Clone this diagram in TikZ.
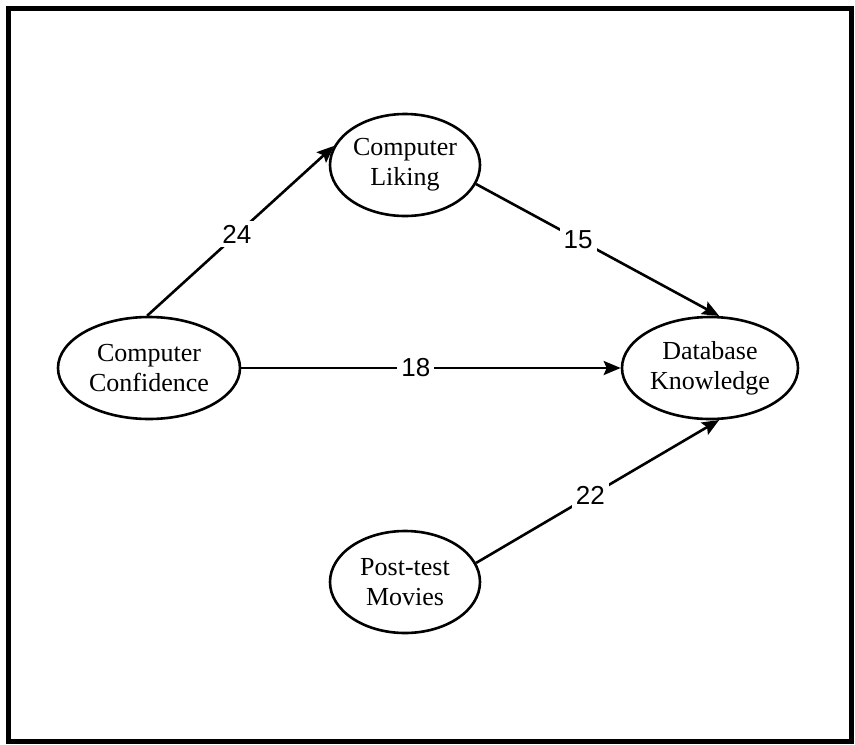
\documentclass[tikz,border=0pt]{standalone}
\usepackage{fontspec}
\setmainfont{Liberation Serif}
\setsansfont{Liberation Sans}
\usetikzlibrary{shapes.geometric,arrows.meta}
\tikzset{
  factor/.style={
    ellipse,
    draw,
    line width=2.6pt,
    inner sep=0pt,
    minimum width=#1,
    minimum height=102pt,
    align=center,
    font=\fontsize{26}{30}\selectfont,
  },
  path/.style={
    line width=2.6pt,
    -{Stealth[length=17pt,width=14pt,inset=3pt]},
  },
  weight/.style={
    fill=white,
    inner sep=4pt,
    font=\sffamily\fontsize{26}{30}\selectfont,
  }
}

\begin{document}
\begin{tikzpicture}[x=1pt,y=-1pt]
        \useasboundingbox (0,0) rectangle (855,745);
        \draw [line width=5pt] (8,8) rectangle (851,741);

        \node [factor=182pt] (conf) at (149,368) {Computer\\Confidence};
        \node [factor=150pt] (liking) at (405,165) {Computer\\Liking};
        \node [factor=176pt] (know) at (710,368) {Database\\Knowledge};
        \node [factor=150pt] (movies) at (405,582) {Post-test\\Movies};

        \draw [path] (conf.92) -- node [weight, pos=0.48] {24} (liking.165);
        \draw [path] (liking.-15) -- node [weight, pos=0.42] {15} (know.80);
        \draw [path] (conf.east) -- node [weight, pos=0.46] {18} (know.west);
        \draw [path] (movies.15) -- node [weight, pos=0.47] {22} (know.-80);
    \end{tikzpicture}
\end{document}
